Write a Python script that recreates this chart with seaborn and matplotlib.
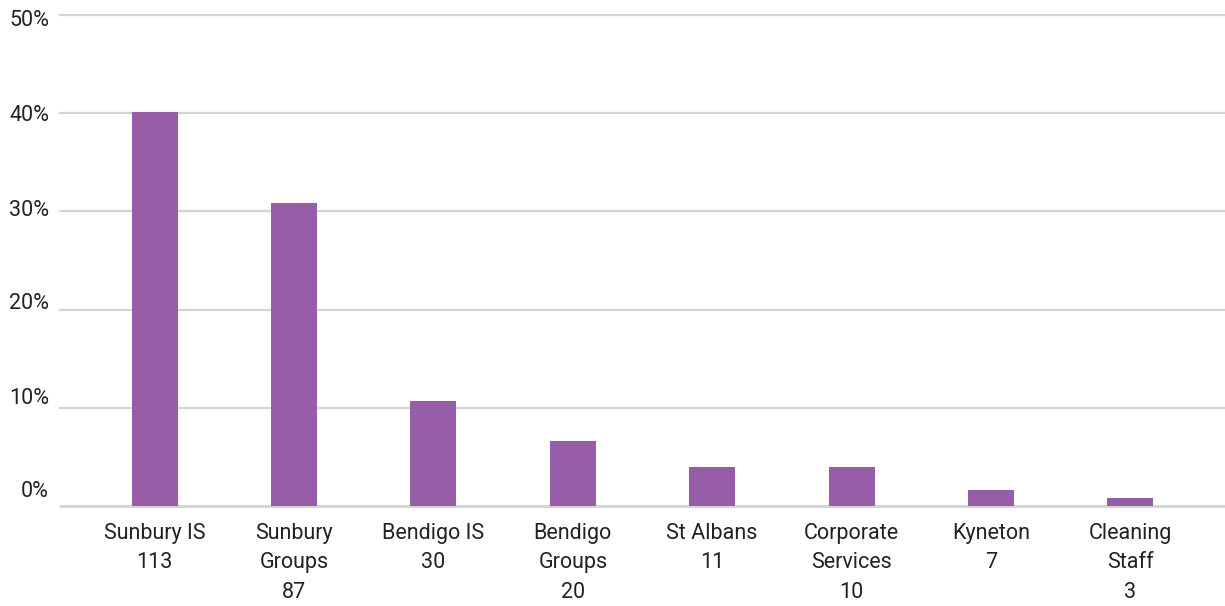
import matplotlib
matplotlib.use("Agg")
import matplotlib.pyplot as plt
import matplotlib.transforms as mtransforms
import seaborn as sns
import pandas as pd

categories = ["Sunbury IS", "Sunbury\nGroups", "Bendigo IS", "Bendigo\nGroups",
              "St Albans", "Corporate\nServices", "Kyneton", "Cleaning\nStaff"]
counts = [113, 87, 30, 20, 11, 10, 7, 3]
percent = [40.1, 30.9, 10.7, 6.6, 4.0, 4.0, 1.6, 0.8]
y_ticks = [0, 10, 20, 30, 40, 50]
y_tick_labels = ["0%", "10%", "20%", "30%", "40%", "50%"]

labels = [f"{c}\n{n}" for c, n in zip(categories, counts)]
df = pd.DataFrame({"label": labels, "pct": percent})

sns.set_theme(style="white")
plt.rcParams["font.family"] = ["Roboto", "DejaVu Sans"]

fig = plt.figure(figsize=(12.25, 6.06), dpi=100)
ax = fig.add_axes([60 / 1225, 1 - 506 / 606, 1 - 60 / 1225, (506 - 15) / 606])

sns.barplot(data=df, x="label", y="pct", color="#975DA8", saturation=1,
            width=0.33, ax=ax, zorder=3, linewidth=0, edgecolor="none")

ax.set_xlim(-0.68, 7.68)
ax.set_ylim(0, 50)
ax.set_yticks(y_ticks)
ax.set_yticklabels(y_tick_labels, fontsize=15.5, color="#222222")
ax.tick_params(axis="x", labelsize=15.5, labelcolor="#222222", length=0, pad=12)
ax.tick_params(axis="y", length=0, pad=8)
for lab in ax.get_xticklabels():
    lab.set_linespacing(1.55)
    lab.set_verticalalignment("top")

# vertical offsets of y tick labels (pixels, upward)
offsets = [17, 12, 9, 3, 0, -3]
for lab, off in zip(ax.get_yticklabels(), offsets):
    lab.set_transform(lab.get_transform() +
                      mtransforms.ScaledTranslation(0, off / 100, fig.dpi_scale_trans))

for y in y_ticks:
    ax.axhline(y, color="#d4d4d4", linewidth=2 if y == 0 else 1.6, zorder=1, clip_on=False)

ax.set_xlabel("")
ax.set_ylabel("")
for s in ax.spines.values():
    s.set_visible(False)
ax.grid(False)

fig.savefig("out.png", dpi=100)
